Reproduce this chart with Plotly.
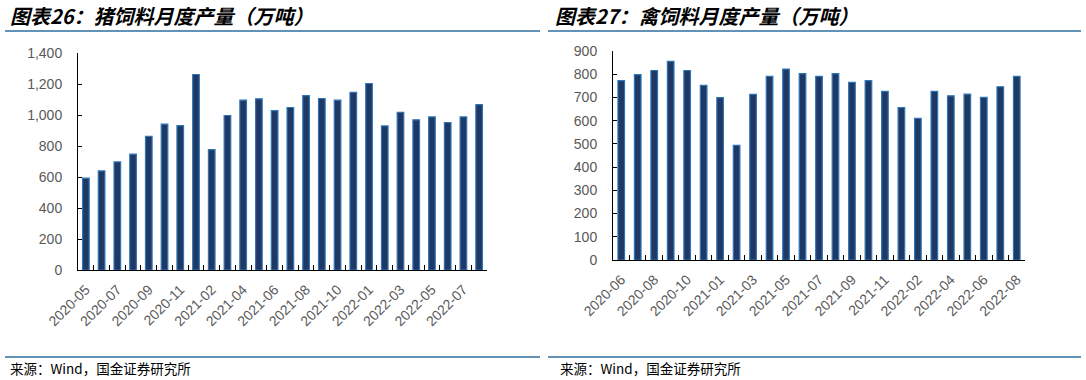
import plotly.graph_objects as go

# ---------------- data ----------------
pig_months = ["2020-05", "2020-06", "2020-07", "2020-08", "2020-09", "2020-10", "2020-11", "2020-12",
              "2021-02", "2021-03", "2021-04", "2021-05", "2021-06", "2021-07", "2021-08", "2021-09",
              "2021-10", "2021-11", "2022-01", "2022-02", "2022-03", "2022-04", "2022-05", "2022-06",
              "2022-07", "2022-08"]
pig_values = [593, 640, 698, 748, 864, 942, 933, 1263, 778, 998, 1097, 1106, 1030, 1050, 1127, 1108,
              1097, 1147, 1205, 931, 1019, 970, 989, 953, 989, 1069]

poultry_months = ["2020-06", "2020-07", "2020-08", "2020-09", "2020-10", "2020-11", "2021-01", "2021-02",
                  "2021-03", "2021-04", "2021-05", "2021-06", "2021-07", "2021-08", "2021-09", "2021-10",
                  "2021-11", "2021-12", "2022-02", "2022-03", "2022-04", "2022-05", "2022-06", "2022-07",
                  "2022-08"]
poultry_values = [772, 798, 816, 855, 816, 752, 699, 494, 713, 791, 822, 803, 791, 803, 765, 772,
                  726, 656, 610, 726, 707, 714, 700, 746, 791]

pig_yticks = [0, 200, 400, 600, 800, 1000, 1200, 1400]
poultry_yticks = [0, 100, 200, 300, 400, 500, 600, 700, 800, 900]

title_left = "图表26：猪饲料月度产量（万吨）"
title_right = "图表27：禽饲料月度产量（万吨）"
source_text = "来源：Wind，国金证券研究所"

# ---------------- style ----------------
W, H = 1086, 380
FILL = "#1F3864"
EDGE = "#2E75B6"
TICK_COLOR = "#595959"
LINE_COLOR = "#2E6E9E"
TICK_FONT = dict(family="Liberation Sans, Arial", size=14, color=TICK_COLOR)
XTICK_FONT = dict(family="Liberation Sans, Arial", size=14, color=TICK_COLOR)


def xd(px):
    return px / W


def yd(px):
    return 1 - px / H


fig = go.Figure()

pig_x = list(range(len(pig_months)))
poultry_x = list(range(len(poultry_months)))

fig.add_trace(go.Bar(x=pig_x, y=pig_values, width=0.42, xaxis="x", yaxis="y",
                     marker=dict(color=FILL, line=dict(color=EDGE, width=1.2)),
                     hovertext=pig_months, showlegend=False))
fig.add_trace(go.Bar(x=poultry_x, y=poultry_values, width=0.40, xaxis="x3", yaxis="y2",
                     marker=dict(color=FILL, line=dict(color=EDGE, width=1.2)),
                     hovertext=poultry_months, showlegend=False))

n1 = len(pig_months)
n2 = len(poultry_months)

common_x = dict(showgrid=False, zeroline=False, showline=True, linecolor="black", linewidth=1,
                tickangle=-45, tickfont=XTICK_FONT, ticks="", ticklabelstandoff=5, automargin=False)
bound_x = dict(showgrid=False, zeroline=False, showline=False, showticklabels=False,
               ticks="inside", ticklen=5, tickcolor="black", tickwidth=1, automargin=False)
common_y = dict(showgrid=False, zeroline=False, showline=True, linecolor="black", linewidth=1,
                ticks="inside", ticklen=4, tickcolor="black", tickfont=TICK_FONT,
                ticklabelstandoff=12, automargin=False)

fig.update_layout(
    width=W, height=H, margin=dict(l=0, r=0, t=0, b=0, pad=0, autoexpand=False),
    paper_bgcolor="white", plot_bgcolor="white",
    bargap=0.5,
    xaxis=dict(domain=[xd(78), xd(487)], range=[-0.5, n1 - 0.5], anchor="y",
               tickmode="array", tickvals=pig_x[::2], ticktext=pig_months[::2], **common_x),
    xaxis2=dict(domain=[xd(78), xd(487)], range=[-0.5, n1 - 0.5], anchor="y", overlaying="x",
                tickmode="array", tickvals=[i - 0.5 for i in range(n1 + 1)], **bound_x),
    yaxis=dict(domain=[yd(270), yd(53.3)], range=[0, 1400], anchor="x",
               tickmode="array", tickvals=pig_yticks, tickformat=",d", **common_y),
    xaxis3=dict(domain=[xd(613), xd(1025)], range=[-0.5, n2 - 0.5], anchor="y2",
                tickmode="array", tickvals=poultry_x[::2], ticktext=poultry_months[::2], **common_x),
    xaxis4=dict(domain=[xd(613), xd(1025)], range=[-0.5, n2 - 0.5], anchor="y2", overlaying="x3",
                tickmode="array", tickvals=[i - 0.5 for i in range(n2 + 1)], **bound_x),
    yaxis2=dict(domain=[yd(260), yd(51)], range=[0, 900], anchor="x3",
                tickmode="array", tickvals=poultry_yticks, tickformat="d", **common_y),
)

# dummy traces to show boundary-tick axes
fig.add_trace(go.Scatter(x=[0], y=[0], xaxis="x2", yaxis="y", mode="markers",
                         marker=dict(opacity=0), showlegend=False, hoverinfo="skip"))
fig.add_trace(go.Scatter(x=[0], y=[0], xaxis="x4", yaxis="y2", mode="markers",
                         marker=dict(opacity=0), showlegend=False, hoverinfo="skip"))

# title and source lines
shapes = []
for x0, x1 in [(5, 540), (548, 1081)]:
    shapes.append(dict(type="line", xref="paper", yref="paper", x0=xd(x0), x1=xd(x1),
                       y0=yd(31), y1=yd(31), line=dict(color=LINE_COLOR, width=1.5)))
    shapes.append(dict(type="line", xref="paper", yref="paper", x0=xd(x0), x1=xd(x1),
                       y0=yd(357), y1=yd(357), line=dict(color=LINE_COLOR, width=1.5)))
fig.update_layout(shapes=shapes)

TITLE_FONT = dict(family="Noto Sans CJK SC", size=20, color="black", weight="bold", style="italic")
SRC_FONT = dict(family="Noto Sans CJK SC", size=13.5, color="black")
annotations = [
    dict(text=title_left, x=xd(8), y=yd(15), xref="paper", yref="paper", xanchor="left",
         yanchor="middle", showarrow=False, font=TITLE_FONT),
    dict(text=title_right, x=xd(553), y=yd(15), xref="paper", yref="paper", xanchor="left",
         yanchor="middle", showarrow=False, font=TITLE_FONT),
    dict(text=source_text, x=xd(8), y=yd(368), xref="paper", yref="paper", xanchor="left",
         yanchor="middle", showarrow=False, font=SRC_FONT),
    dict(text=source_text, x=xd(558), y=yd(368), xref="paper", yref="paper", xanchor="left",
         yanchor="middle", showarrow=False, font=SRC_FONT),
]
fig.update_layout(annotations=annotations)

fig.write_html("out.html", config={"displayModeBar": False},
               post_script="document.body.style.margin='0';document.body.style.overflow='hidden';")
